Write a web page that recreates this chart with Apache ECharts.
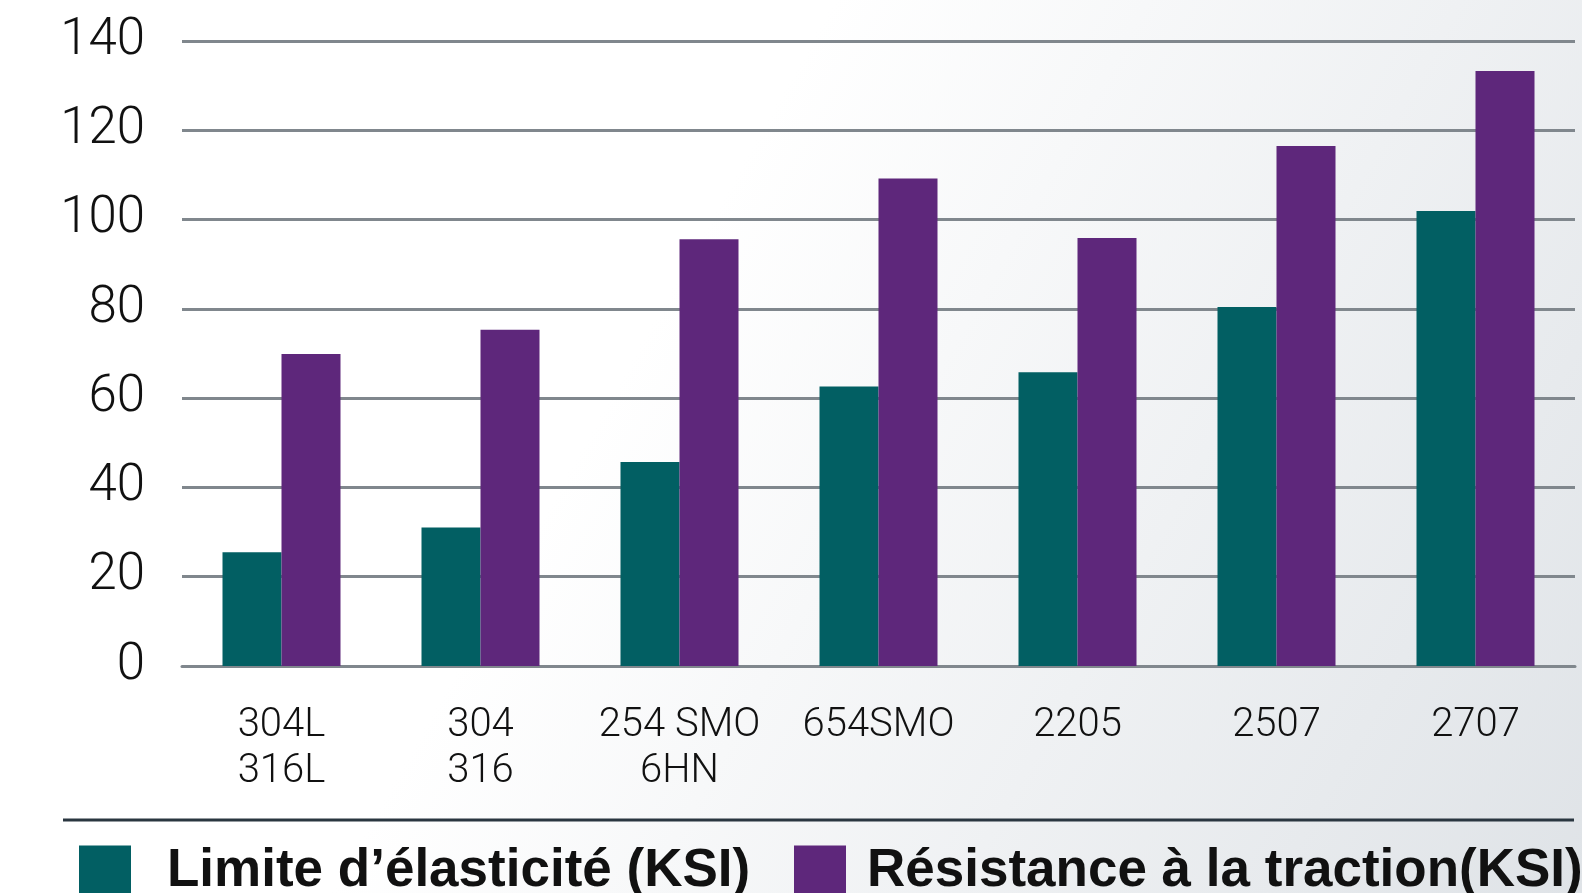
<!DOCTYPE html>
<html>
<head>
<meta charset="utf-8">
<script src="https://cdn.jsdelivr.net/npm/echarts@6/dist/echarts.min.js"></script>
<style>
  html, body { margin: 0; padding: 0; }
  #chart { width: 1582px; height: 893px; }
</style>
</head>
<body>
<div id="chart"></div>
<script>
// nuances d'acier
const categories = ['304L\n316L', '304\n316', '254 SMO\n6HN', '654SMO', '2205', '2507', '2707'];
const seriesNames = ['Limite d\u2019élasticité (KSI)', 'Résistance à la traction(KSI)'];
const limiteElasticite = [25.5, 31, 45.7, 62.6, 65.8, 80.4, 101.9];
const resistanceTraction = [69.9, 75.3, 95.6, 109.2, 95.9, 116.5, 133.3];
const colors = ['#025f63', '#5e277b'];

let myChart = echarts.init(document.getElementById('chart'));

let gridLine = { color: '#80878d', width: 3 };

// une légende par série, sinon elle passe à la ligne
function makeLegend(name, left, gap) {
    return {
        data: [name],
        left: left,
        top: 845,
        padding: 0,
        icon: 'rect',
        itemWidth: 52,
        itemHeight: 52,
        textStyle: {
            fontFamily: 'Liberation Sans, Arial, sans-serif',
            fontWeight: 'bold',
            fontSize: 53,
            color: '#111',
            padding: [0, 0, 0, gap]
        }
    };
}

let option = {
    backgroundColor: new echarts.graphic.LinearGradient(0, 0, 1, 1, [
        { offset: 0, color: '#ffffff' },
        { offset: 0.4, color: '#ffffff' },
        { offset: 1, color: '#dfe3e7' }
    ]),
    animation: false,
    grid: {
        left: 182,
        right: 7,
        top: 41,
        bottom: 227
    },
    legend: [
        makeLegend(seriesNames[0], 79, 31),
        makeLegend(seriesNames[1], 794, 16)
    ],
    xAxis: {
        type: 'category',
        data: categories,
        axisTick: { show: false },
        axisLine: { lineStyle: gridLine },
        axisLabel: {
            interval: 0,
            margin: 37,
            fontFamily: 'Roboto, sans-serif',
            fontWeight: 300,
            fontSize: 40,
            lineHeight: 46,
            color: '#111'
        }
    },
    yAxis: {
        type: 'value',
        min: 0,
        max: 140,
        interval: 20,
        axisLine: { show: false },
        axisTick: { show: false },
        splitLine: { lineStyle: gridLine },
        axisLabel: {
            margin: 37,
            fontFamily: 'Roboto, sans-serif',
            fontWeight: 300,
            fontSize: 51,
            color: '#111'
        }
    },
    graphic: [{
        type: 'line',
        shape: { x1: 63, y1: 820, x2: 1574, y2: 820 },
        style: { stroke: '#2a3640', lineWidth: 3 }
    }],
    series: [
        {
            name: seriesNames[0],
            type: 'bar',
            barWidth: 59,
            barGap: '0%',
            itemStyle: { color: colors[0] },
            data: limiteElasticite
        },
        {
            name: seriesNames[1],
            type: 'bar',
            barWidth: 59,
            barGap: '0%',
            itemStyle: { color: colors[1] },
            data: resistanceTraction
        }
    ]
};
myChart.setOption(option);
window.onresize = function () {
    myChart.resize();
};
</script>
</body>
</html>
